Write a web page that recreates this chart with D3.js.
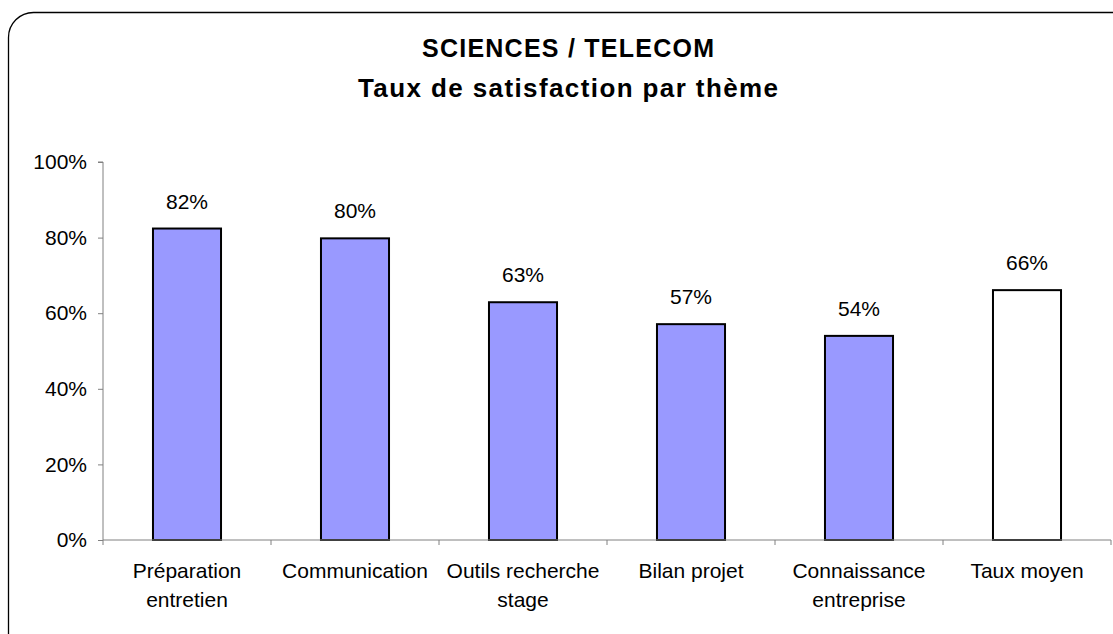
<!DOCTYPE html>
<html>
<head>
<meta charset="utf-8">
<script src="https://cdn.jsdelivr.net/npm/d3@7"></script>
<style>
  body { margin: 0; background: #fff; }
  text { font-family: "Liberation Sans", Arial, sans-serif; fill: #000; }
</style>
</head>
<body>
<svg id="chart" width="1113" height="634"></svg>
<script>
// data
const categories = ["Préparation entretien", "Communication", "Outils recherche stage", "Bilan projet", "Connaissance entreprise", "Taux moyen"];
const catLines = [["Préparation", "entretien"], ["Communication"], ["Outils recherche", "stage"], ["Bilan projet"], ["Connaissance", "entreprise"], ["Taux moyen"]];
const values = [0.824, 0.798, 0.629, 0.571, 0.540, 0.661];
const valueLabels = ["82%", "80%", "63%", "57%", "54%", "66%"];
const yTicks = [0, 0.2, 0.4, 0.6, 0.8, 1];
const titleLines = ["SCIENCES / TELECOM", "Taux de satisfaction par thème"];
const titleWidths = [292, 420]; // widths as read on the picture
const titleSizes = [25, 26];

const data = categories.map((c, i) => ({ key: c, value: values[i], label: valueLabels[i], lines: catLines[i] }));

// svg constants
const svg = d3.select('svg#chart');
const margin = { top: 162, right: 2, bottom: 94, left: 103 };
const WIDTH = 1113, HEIGHT = 634;
const plotRight = 1111;
const plotBottom = HEIGHT - margin.bottom;

// frame
svg.append("rect")
  .attr("x", 8.5).attr("y", 12.5)
  .attr("width", 1130).attr("height", 650)
  .attr("rx", 25).attr("ry", 25)
  .attr("fill", "none").attr("stroke", "#000").attr("stroke-width", 1.3);

// title
svg.append("g").selectAll("text")
  .data(titleLines).enter().append("text")
  .attr("x", 568)
  .attr("y", (d, i) => 57 + i * 40)
  .attr("text-anchor", "middle")
  .attr("font-weight", "bold")
  .attr("font-size", (d, i) => titleSizes[i] + "px")
  .attr("textLength", (d, i) => titleWidths[i])
  .attr("lengthAdjust", "spacing")
  .text(d => d);

const xScale = d3.scaleBand()
  .domain(categories)
  .range([margin.left, plotRight])
  .paddingInner(0.595)
  .paddingOuter(0.2975);

const yScale = d3.scaleLinear()
  .domain([0, 1])
  .range([plotBottom, margin.top]);

// y axis
const yAxis = d3.axisLeft(yScale)
  .tickValues(yTicks)
  .tickFormat(d3.format(".0%"))
  .tickSize(5)
  .tickPadding(11);

const gy = svg.append("g")
  .attr("transform", `translate(${margin.left},0)`)
  .call(yAxis);
gy.select(".domain").attr("stroke", "#808080").attr("d", `M-5,${yScale(1)}H0V${yScale(0)}`);
gy.selectAll(".tick line").attr("stroke", "#808080");
gy.selectAll(".tick text")
  .attr("font-size", "21px")
  .attr("font-family", "Liberation Sans, Arial, sans-serif")
  .attr("fill", "#000");

// bars
svg.append("g").attr("class", "bars")
  .selectAll("rect")
  .data(data, d => d.key)
  .enter().append("rect")
  .attr("x", d => xScale(d.key))
  .attr("y", d => yScale(d.value))
  .attr("width", xScale.bandwidth())
  .attr("height", d => yScale(0) - yScale(d.value))
  .attr("fill", (d, i) => i === data.length - 1 ? "#ffffff" : "#9999ff")
  .attr("stroke", "#000")
  .attr("stroke-width", 2);

// x axis line + boundary ticks
const gx = svg.append("g").attr("class", "x-axis");
gx.append("line")
  .attr("x1", margin.left).attr("x2", plotRight)
  .attr("y1", yScale(0)).attr("y2", yScale(0))
  .attr("stroke", "#808080");
const bounds = d3.range(categories.length + 1).map(i => margin.left + i * xScale.step());
gx.selectAll("line.tk")
  .data(bounds).enter().append("line")
  .attr("class", "tk")
  .attr("x1", d => d).attr("x2", d => d)
  .attr("y1", yScale(0)).attr("y2", yScale(0) + 5)
  .attr("stroke", "#808080");

// category labels
const labels = gx.selectAll("text.cat")
  .data(data).enter().append("text")
  .attr("class", "cat")
  .attr("text-anchor", "middle")
  .attr("font-size", "21px")
  .attr("y", yScale(0) + 38);
labels.selectAll("tspan")
  .data(d => d.lines.map(l => ({ l, x: xScale(d.key) + xScale.bandwidth() / 2 })))
  .enter().append("tspan")
  .attr("x", d => d.x)
  .attr("dy", (d, i) => i === 0 ? 0 : 29)
  .text(d => d.l);

// value labels
svg.append("g").selectAll("text")
  .data(data).enter().append("text")
  .attr("x", d => xScale(d.key) + xScale.bandwidth() / 2)
  .attr("y", d => yScale(d.value) - 20)
  .attr("text-anchor", "middle")
  .attr("font-size", "21px")
  .text(d => d.label);
</script>
</body>
</html>
